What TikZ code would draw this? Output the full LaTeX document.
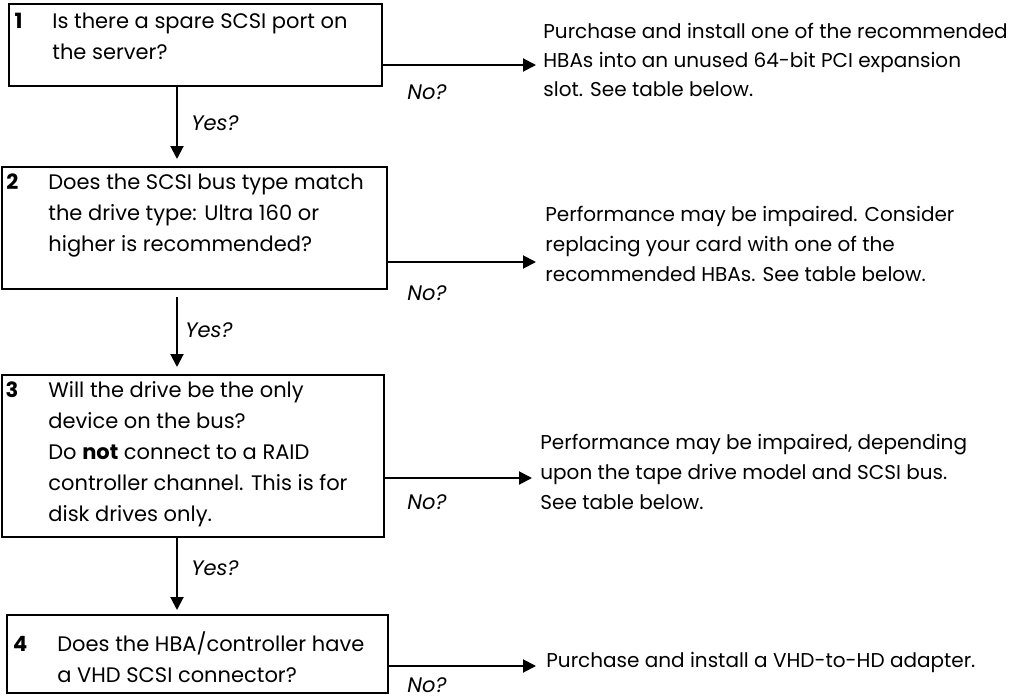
\documentclass[tikz,border=0pt]{standalone}
\usepackage{fontspec}
\setmainfont{Poppins}
\usetikzlibrary{arrows.meta}

\tikzset{
  qbox/.style={draw, line width=1.1pt, inner sep=0pt, outer sep=0pt, anchor=north west},
  qtext/.style={anchor=north west, inner sep=0pt, align=left, font=\fontsize{10.5}{15.5}\selectfont},
  rtext/.style={anchor=north west, inner sep=0pt, align=left, font=\fontsize{10}{15}\selectfont},
  answer/.style={inner sep=0pt, font=\fontsize{10.5}{12}\selectfont\itshape},
  flow/.style={-{Triangle[length=6.5pt,width=6.5pt]}, line width=1pt}
}
\newcommand{\qnum}[1]{\llap{\textbf{#1}\hspace{15pt}}}

\begin{document}
\begin{tikzpicture}[x=0.5pt, y=-0.5pt]
  \useasboundingbox (0,0) rectangle (1018,697);

  \node[qbox, minimum width=186.5pt, minimum height=41pt] (q1) at (9,4) {};
  \node[qbox, minimum width=192.5pt, minimum height=61pt] (q2) at (2,167) {};
  \node[qbox, minimum width=191pt,   minimum height=81pt] (q3) at (2,375) {};
  \node[qbox, minimum width=190.5pt, minimum height=39pt] (q4) at (7,615) {};

  \node[qtext] (t1) at (52,13)  {\qnum{1}Is there a spare SCSI port on\\the server?};
  \node[qtext] (t2) at (48,173) {\qnum{2}Does the SCSI bus type match\\the drive type: Ultra 160 or\\higher is recommended?};
  \node[qtext] (t3) at (48,381) {\qnum{3}Will the drive be the only\\device on the bus?\\Do \textbf{not} connect to a RAID\\controller channel. This is for\\disk drives only.};
  \node[qtext] (t4) at (57,631) {\qnum{4}Does the HBA/controller have\\a VHD SCSI connector?};

  \node[rtext, font=\fontsize{10}{14.5}\selectfont] (r1) at (543,23) {Purchase and install one of the recommended\\HBAs into an unused 64-bit PCI expansion\\slot. See table below.};
  \node[rtext] (r2) at (545,206) {Performance may be impaired. Consider\\replacing your card with one of the\\recommended HBAs. See table below.};
  \node[rtext] (r3) at (540,434) {Performance may be impaired, depending\\upon the tape drive model and SCSI bus.\\See table below.};
  \node[rtext] (r4) at (546,652) {Purchase and install a VHD-to-HD adapter.};

  \coordinate (spine) at (177,0);
  \coordinate (e1) at (536,65);
  \coordinate (e2) at (536,262);
  \coordinate (e3) at (532,478);
  \coordinate (e4) at (536,666);

  \draw[flow] (q1.south -| spine) -- ([yshift=4pt]q2.north -| spine);
  \draw[flow] ([yshift=-4pt]q2.south -| spine) -- ([yshift=4pt]q3.north -| spine);
  \draw[flow] (q3.south -| spine) -- ([yshift=2.5pt]q4.north -| spine);

  \draw[flow] (q1.east |- e1) -- (e1);
  \draw[flow] (q2.east |- e2) -- (e2);
  \draw[flow] (q3.east |- e3) -- (e3);
  \draw[flow] (q4.east |- e4) -- (e4);

  \node[answer] (y1) at (215,123) {Yes?};
  \node[answer] (y2) at (209,330) {Yes?};
  \node[answer] (y3) at (215,568) {Yes?};
  \node[answer] (n1) at (427,92)  {No?};
  \node[answer] (n2) at (427,293) {No?};
  \node[answer] (n3) at (427,502) {No?};
  \node[answer] (n4) at (427,685) {No?};
\end{tikzpicture}
\end{document}
